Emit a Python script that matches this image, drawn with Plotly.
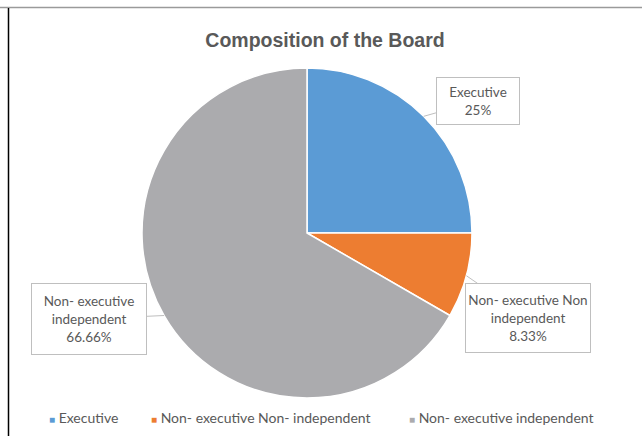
import math
import plotly.graph_objects as go

# Board composition (share of seats, %)
categories = ["Executive", "Non- executive Non- independent", "Non- executive independent"]
shares = [25, 8.33, 66.66]
callout_text = ["Executive<br>25%",
                "Non- executive Non<br>independent<br>8.33%",
                "Non- executive<br>independent<br>66.66%"]
colors = ["#5B9BD5", "#ED7D31", "#ABABAE"]

W, H = 642, 436
CX, CY, R = 307, 233, 165          # pie centre / radius in pixels
TEXT = "#595959"
LABEL_FONT = "Lato"

fig = go.Figure()
fig.add_trace(go.Pie(
    labels=categories,
    values=shares,
    sort=False,
    direction="clockwise",
    rotation=0,
    marker=dict(colors=colors, line=dict(color="white", width=1.5)),
    textinfo="none",
    hoverinfo="label+value",
    showlegend=False,
    domain=dict(x=[(CX - R) / W, (CX + R) / W],
                y=[1 - (CY + R) / H, 1 - (CY - R) / H]),
))

# callout boxes: (centre x px, centre y px, width, height)
boxes = [(478, 101, 82, 46), (528, 318, 124, 68), (89, 319, 114, 70)]

total = sum(shares)
start = 0.0
annotations = []
for val, txt, (bx, by, bw, bh) in zip(shares, callout_text, boxes):
    mid = (start + val / 2) / total * 2 * math.pi
    start += val
    tx = CX + R * math.sin(mid)
    ty = CY - R * math.cos(mid)
    annotations.append(dict(
        x=tx / W, y=1 - ty / H, xref="paper", yref="paper",
        ax=bx - tx, ay=by - ty, axref="pixel", ayref="pixel",
        text=txt, showarrow=True, arrowhead=0, arrowwidth=1,
        arrowcolor="#BFBFBF", standoff=0,
        bgcolor="white", bordercolor="#BFBFBF", borderwidth=1,
        width=bw - 2, height=bh - 2, align="center", valign="middle",
        font=dict(family=LABEL_FONT, size=13.5, color=TEXT),
    ))

# legend row along the bottom
legend_x = [47, 149, 407]
for name, col, lx in zip(categories, colors, legend_x):
    annotations.append(dict(
        x=lx / W, y=1 - 417 / H, xref="paper", yref="paper",
        xanchor="left", yanchor="middle", showarrow=False,
        text=f"<span style='color:{col};font-size:10px'>■</span> {name}",
        font=dict(family=LABEL_FONT, size=14, color=TEXT),
    ))

fig.update_layout(
    width=W, height=H,
    margin=dict(l=0, r=0, t=0, b=0),
    paper_bgcolor="white", plot_bgcolor="white",
    title=dict(text="<b>Composition of the Board</b>", x=325 / W, xanchor="center",
               y=1 - 40 / H, yanchor="middle",
               font=dict(family="Liberation Sans, Arial", size=19.5, color=TEXT)),
    annotations=annotations,
    shapes=[
        dict(type="line", xref="paper", yref="paper", x0=0, x1=1,
             y0=1 - 7.5 / H, y1=1 - 7.5 / H, line=dict(color="#9A9A9A", width=1.5)),
        dict(type="line", xref="paper", yref="paper", x0=8.5 / W, x1=8.5 / W,
             y0=0, y1=1 - 8 / H, line=dict(color="#000000", width=1.5)),
    ],
)

fig.write_html("out.html")
